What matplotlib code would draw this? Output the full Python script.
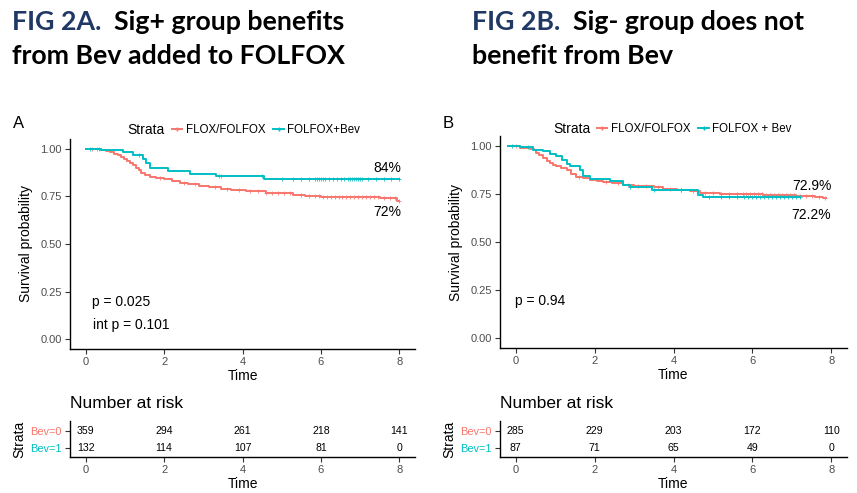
import numpy as np
import matplotlib
matplotlib.use("Agg")
import matplotlib.pyplot as plt
from matplotlib.lines import Line2D

plt.rcParams['font.family'] = ['Liberation Sans', 'DejaVu Sans']

RED = '#F8766D'
TEAL = '#00BFC4'
NAVY = '#1F3864'
GREY = '#4D4D4D'

# ---- data ----
# Panel A (Sig+)
a_red_t = [0, 0.25, 0.4, 0.52, 0.62, 0.72, 0.82, 0.9, 0.98, 1.05, 1.12, 1.2, 1.28, 1.35,
           1.42, 1.52, 1.63, 1.8, 2.0, 2.2, 2.4, 2.6, 2.9, 3.15, 3.45, 3.7, 4.1, 4.6,
           5.28, 5.6, 6.0, 7.0, 7.5, 7.95]
a_red_s = [1.0, 0.997, 0.993, 0.987, 0.98, 0.973, 0.965, 0.955, 0.945, 0.935, 0.925, 0.912,
           0.9, 0.887, 0.872, 0.861, 0.852, 0.846, 0.84, 0.832, 0.822, 0.812, 0.804, 0.797,
           0.79, 0.782, 0.776, 0.768, 0.759, 0.752, 0.748, 0.745, 0.741, 0.727]
a_red_end = 8.0
a_red_cens = [0.15, 0.3, 1.9, 2.5, 2.8, 3.3, 3.6, 3.9, 4.2, 4.4, 4.6, 4.75, 4.9, 5.05, 5.2,
              5.5, 5.7, 5.85, 5.95, 6.05, 6.15, 6.25, 6.35, 6.45, 6.55, 6.65, 6.75, 6.85,
              6.95, 7.05, 7.15, 7.25, 7.35, 7.45, 7.6, 7.75, 7.9, 8.0]

a_teal_t = [0, 0.4, 0.95, 1.2, 1.46, 1.55, 1.65, 2.1, 2.65, 3.33, 4.56]
a_teal_s = [1.0, 0.99, 0.982, 0.965, 0.947, 0.925, 0.9, 0.882, 0.867, 0.854, 0.843]
a_teal_end = 8.0
a_teal_cens = [0.1, 0.35, 1.35, 3.4, 3.45, 4.5, 5.0, 5.3, 5.5, 5.7, 5.85, 5.9, 5.95, 6.0,
               6.05, 6.1, 6.2, 6.3, 6.4, 6.5, 6.6, 6.7, 6.75, 6.8, 6.85, 6.9, 6.95, 7.0,
               7.05, 7.2, 7.4, 7.6, 7.8, 8.0]

# Panel B (Sig-)
b_red_t = [-0.2, 0.1, 0.35, 0.45, 0.52, 0.6, 0.69, 0.78, 0.86, 0.95, 1.03, 1.15, 1.29, 1.41,
           1.54, 1.7, 1.88, 2.05, 2.21, 2.45, 2.72, 3.0, 3.22, 3.5, 3.73, 4.1, 4.41, 4.66,
           5.17, 6.27, 7.11, 7.6, 7.8]
b_red_s = [1.0, 0.99, 0.985, 0.975, 0.962, 0.95, 0.936, 0.922, 0.91, 0.9, 0.893, 0.885,
           0.876, 0.853, 0.836, 0.83, 0.824, 0.818, 0.81, 0.804, 0.798, 0.793, 0.789, 0.783,
           0.777, 0.771, 0.766, 0.754, 0.749, 0.746, 0.74, 0.734, 0.726]
b_red_end = 7.87
b_red_cens = [0.0, 1.6, 2.3, 2.6, 2.85, 3.1, 3.3, 3.6, 3.9, 4.2, 4.5, 4.8, 5.0, 5.2, 5.4,
              5.6, 5.75, 5.85, 5.95, 6.05, 6.15, 6.25, 6.35, 6.45, 6.55, 6.65, 6.75, 6.85,
              6.95, 7.05, 7.2, 7.35, 7.5, 7.7, 7.85]

b_teal_t = [-0.2, 0.1, 0.44, 0.69, 0.86, 1.03, 1.16, 1.29, 1.37, 1.62, 1.71, 1.88, 2.38,
            2.72, 2.9, 3.45, 4.62, 4.75]
b_teal_s = [1.0, 0.991, 0.979, 0.97, 0.958, 0.945, 0.927, 0.905, 0.893, 0.876, 0.841, 0.827,
            0.815, 0.798, 0.785, 0.768, 0.746, 0.732]
b_teal_end = 7.2
b_teal_cens = [-0.1, 0.3, 2.9, 3.5, 4.2, 4.9, 5.2, 5.4, 5.6, 5.8, 5.9, 6.0, 6.1, 6.2, 6.3,
               6.4, 6.5, 6.6, 6.7, 6.8, 6.9, 7.0, 7.1, 7.2]

risk_times = [0, 2, 4, 6, 8]
a_risk_bev0 = [359, 294, 261, 218, 141]
a_risk_bev1 = [132, 114, 107, 81, 0]
b_risk_bev0 = [285, 229, 203, 172, 110]
b_risk_bev1 = [87, 71, 65, 49, 0]

a_labels = ['FLOX/FOLFOX', 'FOLFOX+Bev']
b_labels = ['FLOX/FOLFOX', 'FOLFOX + Bev']


fig = plt.figure(figsize=(8.57, 4.93), dpi=100)
W, H = 857, 493


def px_axes(left, top, right, bottom):
    return fig.add_axes([left / W, 1 - bottom / H, (right - left) / W, (bottom - top) / H])


def style_axes(ax):
    for s in ['top', 'right']:
        ax.spines[s].set_visible(False)
    for s in ['left', 'bottom']:
        ax.spines[s].set_linewidth(1.0)
    ax.tick_params(length=3.5, width=0.8, color='#333333', labelcolor=GREY,
                   labelsize=8, pad=2.5)


def km(ax, t, s, end, cens, color):
    tt = list(t) + [end]
    ss = list(s) + [s[-1]]
    ax.plot(tt, ss, drawstyle='steps-post', color=color, lw=1.4)
    idx = np.searchsorted(t, cens, side='right') - 1
    cy = np.array(s)[np.clip(idx, 0, len(s) - 1)]
    ax.plot(cens, cy, ls='none', marker='+', ms=3.3, mew=0.7, color=color, alpha=0.8)


def main_panel(box, curves, labels, notes, letter, letter_xy, legend_xy, strata_x):
    ax = px_axes(*box)
    for t, s, end, cens, col in curves:
        km(ax, t, s, end, cens, col)
    ax.set_xlim(-0.4, 8.4)
    ax.set_ylim(-0.05, 1.05)
    ax.set_xticks([0, 2, 4, 6, 8])
    ax.set_yticks([0, 0.25, 0.5, 0.75, 1.0])
    ax.set_yticklabels(['0.00', '0.25', '0.50', '0.75', '1.00'])
    style_axes(ax)
    ax.set_xlabel('Time', fontsize=10, labelpad=1)
    ax.set_ylabel('Survival probability', fontsize=10, labelpad=5)
    for x, y, txt, ha in notes:
        ax.text(x, y, txt, fontsize=10, ha=ha, va='center')
    fig.text(letter_xy[0] / W, 1 - letter_xy[1] / H, letter, fontsize=12, va='center')
    handles = [Line2D([], [], color=RED, lw=1.4, marker='+', ms=3.5),
               Line2D([], [], color=TEAL, lw=1.4, marker='+', ms=3.5)]
    fig.legend(handles, labels, loc='center left',
               bbox_to_anchor=(legend_xy[0] / W, 1 - legend_xy[1] / H),
               ncol=2, frameon=False, fontsize=8.3, handlelength=0.9,
               handletextpad=0.3, columnspacing=0.7, borderpad=0, borderaxespad=0)
    fig.text(strata_x / W, 1 - legend_xy[1] / H, 'Strata', fontsize=10, va='center')
    return ax


def risk_table(box, bev0, bev1, title_x):
    ax = px_axes(*box)
    for x, n in zip(risk_times, bev0):
        ax.text(x, 2, str(n), fontsize=7.6, ha='center', va='center')
    for x, n in zip(risk_times, bev1):
        ax.text(x, 1, str(n), fontsize=7.6, ha='center', va='center')
    ax.set_xlim(-0.4, 8.4)
    ax.set_ylim(0.45, 2.6)
    ax.set_xticks([0, 2, 4, 6, 8])
    ax.set_yticks([2, 1])
    ax.set_yticklabels(['Bev=0', 'Bev=1'])
    style_axes(ax)
    ax.tick_params(axis='y', labelsize=7.9)
    ax.get_yticklabels()[0].set_color(RED)
    ax.get_yticklabels()[1].set_color(TEAL)
    ax.set_xlabel('Time', fontsize=10, labelpad=1)
    ax.set_ylabel('Strata', fontsize=10, labelpad=3)
    fig.text(title_x / W, 1 - 404 / H, 'Number at risk', fontsize=12.5, va='center')
    return ax


main_panel((70, 139, 415, 349),
           [(a_red_t, a_red_s, a_red_end, a_red_cens, RED),
            (a_teal_t, a_teal_s, a_teal_end, a_teal_cens, TEAL)],
           a_labels,
           [(8.05, 0.897, '84%', 'right'), (8.05, 0.667, '72%', 'right'),
            (0.15, 0.195, 'p = 0.025', 'left'), (0.19, 0.075, 'int p = 0.101', 'left')],
           'A', (13, 123), (172, 130), 127)

main_panel((500, 136, 847, 348),
           [(b_red_t, b_red_s, b_red_end, b_red_cens, RED),
            (b_teal_t, b_teal_s, b_teal_end, b_teal_cens, TEAL)],
           b_labels,
           [(8.0, 0.792, '72.9%', 'right'), (8.0, 0.642, '72.2%', 'right'),
            (-0.02, 0.192, 'p = 0.94', 'left')],
           'B', (443, 123), (597, 129), 553)

risk_table((70, 421, 415, 457), a_risk_bev0, a_risk_bev1, 70)
risk_table((500, 421, 847, 457), b_risk_bev0, b_risk_bev1, 500)

# ---- two-colour titles ----
renderer = fig.canvas.get_renderer()
TSIZE = 19.3


def title(x, y, head, rest):
    t1 = fig.text(x / W, 1 - y / H, head, fontsize=TSIZE, fontweight='bold',
                  family='Lato', color=NAVY, va='center')
    bb = t1.get_window_extent(renderer)
    fig.text(bb.x1 / W, 1 - y / H, rest, fontsize=TSIZE, fontweight='bold',
             family='Lato', color='black', va='center')


title(12, 22, 'FIG 2A.', '  Sig+ group benefits')
fig.text(12 / W, 1 - 56 / H, 'from Bev added to FOLFOX', fontsize=TSIZE, fontweight='bold',
         family='Lato', va='center')
title(472, 22, 'FIG 2B.', '  Sig- group does not')
fig.text(472 / W, 1 - 56 / H, 'benefit from Bev', fontsize=TSIZE, fontweight='bold',
         family='Lato', va='center')

fig.savefig('out.png', dpi=100)
